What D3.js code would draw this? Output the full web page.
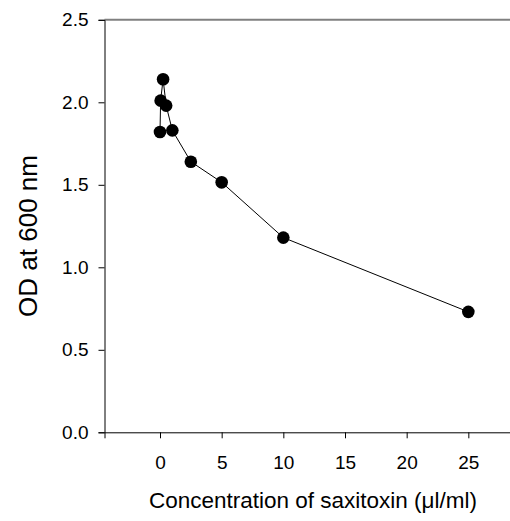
<!DOCTYPE html>
<html>
<head>
<meta charset="utf-8">
<script src="https://cdn.jsdelivr.net/npm/d3@7"></script>
<style>
  body { margin: 0; background: #fff; }
  svg { font-family: "Liberation Sans", Arial, sans-serif; }
</style>
</head>
<body>
<svg width="510" height="521"></svg>
<script>
// saxitoxin dose response
var concentration = [0, 0.05, 0.25, 0.5, 1, 2.5, 5, 10, 25];
var odValues = [1.82, 2.01, 2.14, 1.98, 1.83, 1.64, 1.515, 1.18, 0.73];
var xTicks = [0, 5, 10, 15, 20, 25];
var yTicks = [0, 0.5, 1.0, 1.5, 2.0, 2.5];

var svg = d3.select("svg");

var x = d3.scaleLinear().domain([-4.5, 28.5]).range([104.5, 511.5]);
var y = d3.scaleLinear().domain([0, 2.5]).range([432.3, 19.8]);

// top frame line
svg.append("line")
  .attr("x1", x(-4.5)).attr("x2", 510)
  .attr("y1", y(2.5)).attr("y2", y(2.5))
  .attr("stroke", "#808080")
  .attr("stroke-width", 2);

var xAxis = svg.append("g")
  .attr("transform", "translate(0," + y(0) + ")")
  .call(d3.axisBottom(x).tickValues(xTicks).tickSize(6).tickPadding(17).tickFormat(d3.format("d")));
xAxis.select(".domain").attr("stroke", "#000");
xAxis.selectAll("text").style("font-size", "19px").attr("fill", "#000");

var yAxis = svg.append("g")
  .attr("transform", "translate(" + x(-4.5) + ",0)")
  .call(d3.axisLeft(y).tickValues(yTicks).tickSize(6).tickPadding(10).tickFormat(d3.format(".1f")));
yAxis.select(".domain").attr("stroke", "#000");
yAxis.selectAll("text").style("font-size", "19px").attr("fill", "#000");

var data = concentration.map(function(c, i) { return { c: c, od: odValues[i] }; });

svg.append("path")
  .datum(data)
  .attr("fill", "none")
  .attr("stroke", "#000")
  .attr("stroke-width", 1)
  .attr("d", d3.line().x(function(d) { return x(d.c); }).y(function(d) { return y(d.od); }));

svg.selectAll("circle.pt")
  .data(data)
  .enter().append("circle")
    .attr("class", "pt")
    .attr("cx", function(d) { return x(d.c); })
    .attr("cy", function(d) { return y(d.od); })
    .attr("r", 6.3)
    .attr("fill", "#000");

svg.append("text")
  .attr("x", 313)
  .attr("y", 508)
  .attr("text-anchor", "middle")
  .style("font-size", "22.5px")
  .text("Concentration of saxitoxin (\u03bcl/ml)");

svg.append("text")
  .attr("transform", "translate(37," + 236 + ") rotate(-90)")
  .attr("text-anchor", "middle")
  .style("font-size", "26px")
  .text("OD at 600 nm");
</script>
</body>
</html>
